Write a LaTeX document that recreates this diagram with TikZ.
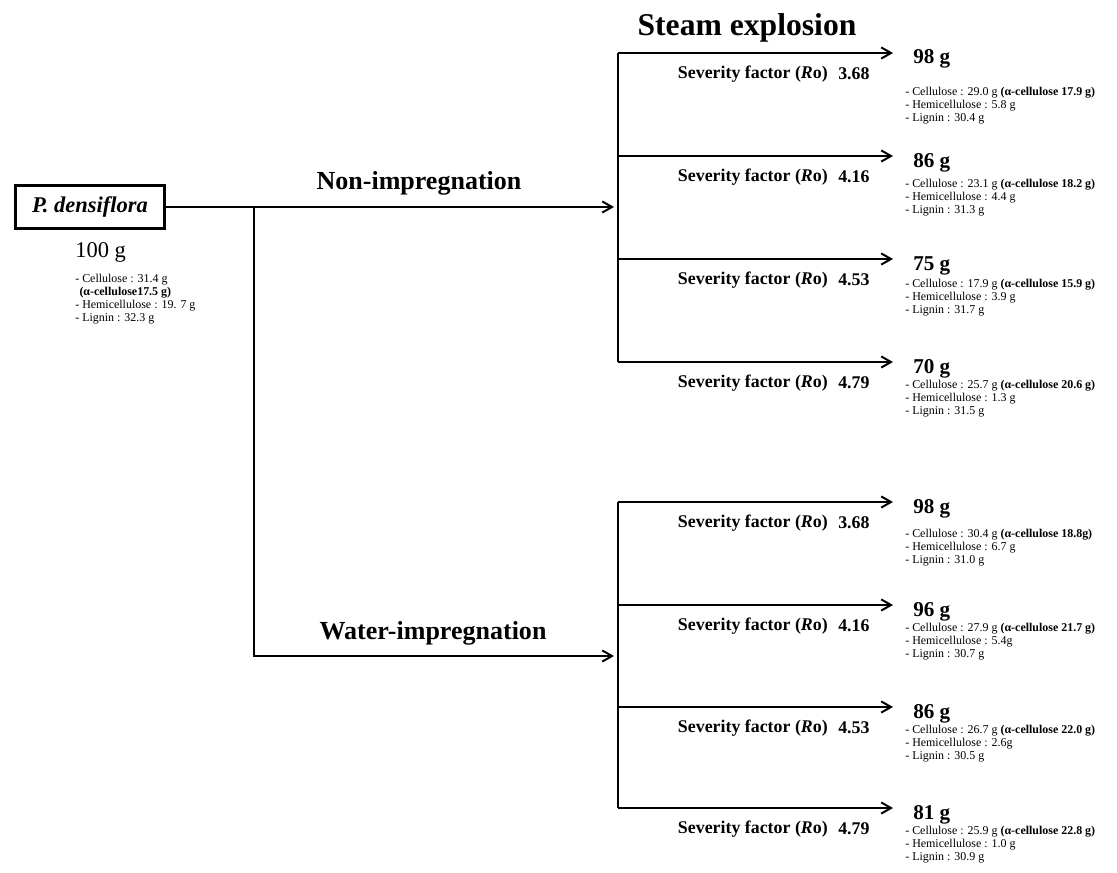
\documentclass[tikz,border=0pt]{standalone}
\usepackage{fontspec}
\setmainfont{Liberation Serif}
\usetikzlibrary{arrows.meta}

\tikzset{
  flow/.style={line width=1.4pt, -{Straight Barb[length=7pt, width=8pt, line width=1.4pt]}},
  bar/.style={line width=1.4pt},
  sample/.style={draw, line width=2.6pt, minimum width=3.72cm, minimum height=1.07cm,
    inner sep=0pt, font=\fontsize{16}{18}\selectfont\bfseries\itshape},
  route/.style={font=\fontsize{18.5}{21}\selectfont\bfseries},
  bigtitle/.style={font=\fontsize{22.5}{26}\selectfont\bfseries},
  sev/.style={inner sep=0pt, font=\fontsize{12.7}{15}\selectfont\bfseries},
  mass/.style={inner sep=0pt, font=\fontsize{15}{17}\selectfont\bfseries},
  comp/.style={inner sep=0pt, align=left, font=\fontsize{8.5}{9.3}\selectfont}
}

\begin{document}
\begin{tikzpicture}[x=0.025cm, y=-0.025cm]
  \useasboundingbox (0, 0) rectangle (1117, 873);

  % raw material
  \node[sample] (pd) at (90, 207) {P. densiflora};
  \node[mass, anchor=west, font=\fontsize{16}{18}\selectfont] (m0) at (75, 252) {100 g};
  \node[comp, anchor=north west] (c0) at (75, 274)
    {- Cellulose : 31.4 g\\\hspace{3pt}\textbf{(α-cellulose17.5 g)}\\- Hemicellulose : 19. 7 g\\- Lignin : 32.3 g};

  % two routes
  \coordinate (split) at (254, 207);
  \coordinate (ni) at (614, 207);
  \coordinate (wi) at (614, 656);
  \draw[flow] (pd.east) -- (ni);
  \draw[flow] (split) |- (wi);
  \node[route] (nilab) at (419, 183) {Non-impregnation};
  \node[route] (wilab) at (433, 633) {Water-impregnation};
  \node[bigtitle] (se) at (747, 28) {Steam explosion};

  \foreach [count=\n] \y/\w/\ro/\cel/\acel/\hemi/\lig/\cy in {
      53/98 g/3.68/29.0 g/17.9 g/5.8 g/30.4 g/106,
      156/86 g/4.16/23.1 g/18.2 g/4.4 g/31.3 g/198,
      259/75 g/4.53/17.9 g/15.9 g/3.9 g/31.7 g/298,
      362/70 g/4.79/25.7 g/20.6 g/1.3 g/31.5 g/399,
      502/98 g/3.68/30.4 g/18.8g/6.7 g/31.0 g/548,
      605/96 g/4.16/27.9 g/21.7 g/5.4g/30.7 g/642,
      707/86 g/4.53/26.7 g/22.0 g/2.6g/30.5 g/744,
      808/81 g/4.79/25.9 g/22.8 g/1.0 g/30.9 g/845} {
    \coordinate (b\n) at (618, \y);
    \coordinate (e\n) at (893, \y);
    \draw[flow] (b\n) -- (e\n);
    \node[sev, anchor=east] (s\n) at (828, \y + 21) {Severity factor (\textit{R}o)};
    \node[sev, anchor=west] (r\n) at (838, \y + 21) {\ro};
    \node[mass, anchor=base west] (w\n) at (913, \y + 11) {\w};
    \node[comp, anchor=west] (c\n) at (905, \cy)
      {- Cellulose : \cel{} \textbf{(α-cellulose \acel)}\\- Hemicellulose : \hemi\\- Lignin : \lig};
  }
  \draw[bar] (b1) -- (b4);
  \draw[bar] (b5) -- (b8);

\end{tikzpicture}
\end{document}
